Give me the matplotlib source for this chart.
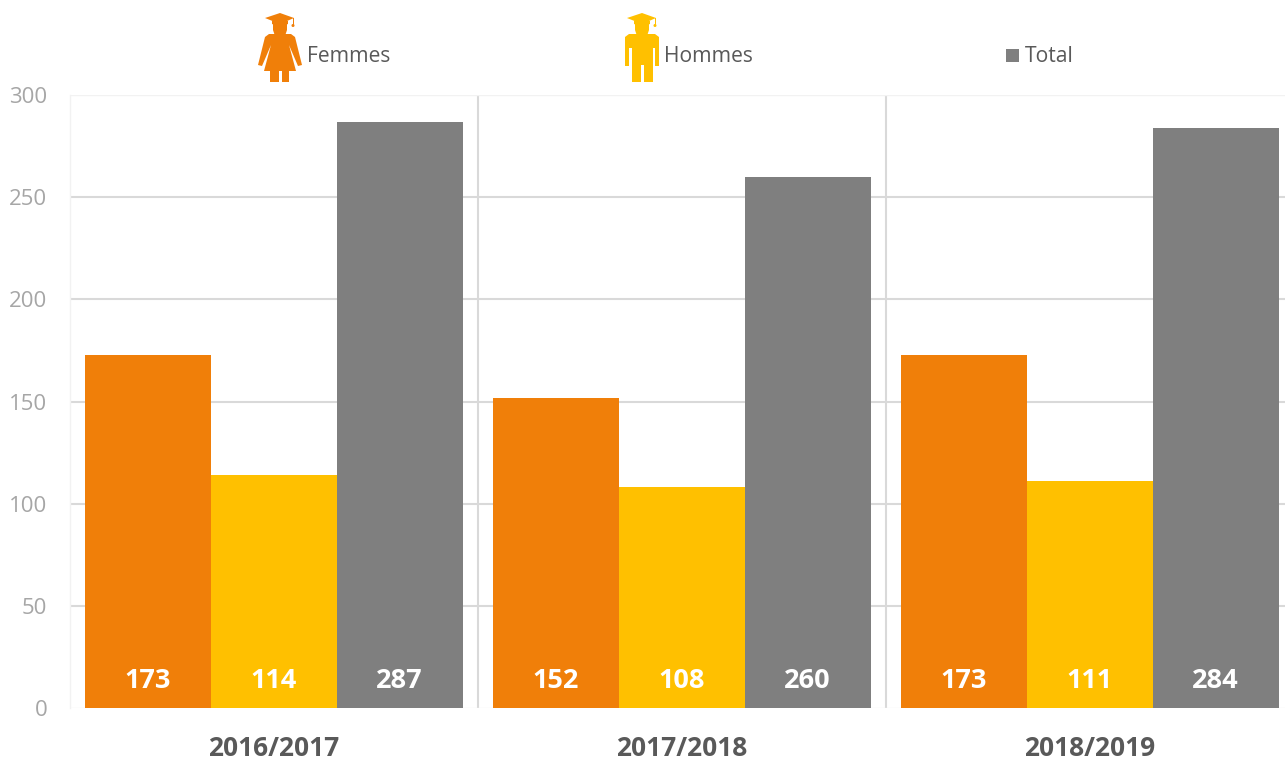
import matplotlib
matplotlib.use("Agg")
import matplotlib.pyplot as plt
from matplotlib.patches import Polygon, Rectangle, Ellipse
from matplotlib.transforms import offset_copy
import numpy as np

plt.rcParams['font.family'] = ['Open Sans', 'DejaVu Sans']

years = ["2016/2017", "2017/2018", "2018/2019"]
femmes = [173, 152, 173]
hommes = [114, 108, 111]
total = [287, 260, 284]
series_names = ["Femmes", "Hommes", "Total"]
colors = ["#F07F09", "#FFC000", "#7F7F7F"]
yticks = [0, 50, 100, 150, 200, 250, 300]

W, H = 1285, 762
fig = plt.figure(figsize=(W / 100, H / 100), dpi=100, facecolor="white")
x0, x1, y0, y1 = 69.6, 1285, 708.2, 95.0
ax = fig.add_axes([x0 / W, 1 - y0 / H, (x1 - x0) / W, (y0 - y1) / H])
ax.set_xlim(-0.5, -0.5 + (x1 - x0) / 408)
ax.set_ylim(0, 300)

bw = 126 / 408
x = np.arange(len(years))
for i, (vals, c) in enumerate(zip([femmes, hommes, total], colors)):
    ax.bar(x + (i - 1) * bw, vals, bw, color=c, zorder=3, linewidth=0)
    for xi, v in zip(x, vals):
        ax.annotate(str(v), (xi + (i - 1) * bw, 0), xytext=(0, 27), textcoords="offset pixels",
                    ha="center", va="center", color="white", fontsize=19.5, fontweight="bold", zorder=4)

ax.set_yticks(yticks)
ax.set_xticks(x)
ax.set_xticklabels(years, fontsize=19, fontweight="bold", color="#595959")
ax.tick_params(axis="x", length=0, pad=19)
ax.tick_params(axis="y", length=0, pad=16, labelsize=16, labelcolor="#A6A6A6")
ax.grid(axis="y", color="#D9D9D9", linewidth=1.5, zorder=1)
for gl, t in zip(ax.get_ygridlines(), yticks):
    if t in (0, 300):
        gl.set_color("#F2F2F2")
        gl.set_linewidth(1.0)
for b in [0.5, 1.5]:
    ax.axvline(b, color="#D9D9D9", linewidth=1.5, zorder=1)
for s in ax.spines.values():
    s.set_visible(False)
ax.spines["left"].set_visible(True)
ax.spines["left"].set_color("#F2F2F2")
ax.spines["left"].set_linewidth(1.0)

# Legend, with the pictograms drawn in pixel coordinates
ov = fig.add_axes([0, 0, 1, 1], zorder=10)
ov.set_xlim(0, W)
ov.set_ylim(H, 0)
ov.axis("off")
ov.patch.set_alpha(0)


def cap(cx, color):
    ov.add_patch(Polygon([(cx - 15, 18), (cx, 13), (cx + 14, 18), (cx, 24)], closed=True, color=color, lw=0))
    ov.add_patch(Polygon([(cx - 8, 21), (cx + 8, 21), (cx + 8, 24), (cx, 27), (cx - 8, 24)], closed=True, color=color, lw=0))
    ov.add_patch(Rectangle((cx + 12.5, 18), 1, 7, color=color, lw=0))
    ov.add_patch(Ellipse((cx + 13, 25.5), 3, 3, color=color, lw=0))
    ov.add_patch(Polygon([(cx - 7, 22), (cx + 7, 22), (cx + 7, 30), (cx + 5, 36), (cx - 5, 36), (cx - 7, 30)],
                         closed=True, color=color, lw=0))


def woman(cx, color):
    cap(cx, color)
    ov.add_patch(Polygon([
        (cx - 11, 34), (cx + 11, 34), (cx + 15, 37), (cx + 22, 65), (cx + 18, 66),
        (cx + 9, 45), (cx + 16, 71), (cx + 9, 71), (cx + 9, 82), (cx + 2, 82), (cx + 2, 71),
        (cx - 1, 71), (cx - 1, 82), (cx - 10, 82), (cx - 10, 71), (cx - 16, 71),
        (cx - 9, 45), (cx - 18, 66), (cx - 22, 65), (cx - 15, 37)],
        closed=True, color=color, lw=0))


def man(cx, color):
    cap(cx, color)
    ov.add_patch(Polygon([
        (cx - 13, 34), (cx + 13, 34), (cx + 17, 37), (cx + 17, 66), (cx + 13, 66),
        (cx + 13, 48), (cx + 11, 48), (cx + 11, 82), (cx + 2, 82), (cx + 2, 65),
        (cx - 1, 65), (cx - 1, 82), (cx - 10, 82), (cx - 10, 48), (cx - 13, 48),
        (cx - 13, 66), (cx - 17, 66), (cx - 17, 37)],
        closed=True, color=color, lw=0))


woman(280, colors[0])
man(642, colors[1])
ov.add_patch(Rectangle((1005.5, 48.5), 13, 13, color=colors[2], lw=0))
for name, tx in zip(series_names, [307, 664, 1025]):
    ov.text(tx, 56.5, name, ha="left", va="center", fontsize=15.2, color="#595959")

fig.savefig("out.png", dpi=100, facecolor="white")
